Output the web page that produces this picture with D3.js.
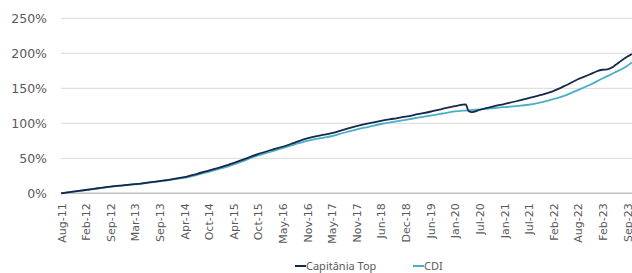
<!DOCTYPE html>
<html lang="pt">
<head>
<meta charset="utf-8">
<title>Capitânia Top vs CDI</title>
<script src="https://d3js.org/d3.v7.min.js"></script>
<style>
  body { margin: 0; background: #fff; }
  text { font-family: "DejaVu Sans", sans-serif; fill: #595959; }
</style>
</head>
<body>
<script>
// chart size
var w = 632, h = 273;

// x labels (one every ~6 months, evenly spaced on a category axis)
var labels = ["Aug-11","Feb-12","Sep-12","Mar-13","Sep-13","Apr-14","Oct-14","Apr-15",
  "Oct-15","May-16","Nov-16","May-17","Nov-17","Jun-18","Dec-18","Jun-19","Jan-20",
  "Jul-20","Jan-21","Jul-21","Feb-22","Aug-22","Feb-23","Sep-23"];

var yTicks = [0, 50, 100, 150, 200, 250];

// cumulative return (%), position measured in label steps
var capT = [0,0.5,1,1.5,2,2.5,3,3.5,4,4.5,5,5.5,6,6.5,7,7.5,8,8.5,9,9.5,10,10.5,11,11.5,
  12,12.5,13,13.5,14,14.5,15,15.5,16,16.3,16.45,16.55,16.7,17,17.5,18,18.5,19,19.5,20,
  20.5,21,21.5,21.75,22,22.2,22.4,22.5,23,23.2];
var capV = [0,2.4,4.7,7.2,9.5,11.3,13,15.2,17.5,20,23,27.5,32.5,37.5,43,49.5,56,61.5,66.5,
  72.5,78.5,82.5,86,91,96,100,103.5,106.5,109.5,113,116.5,120.5,124.5,126.5,127,118,116,
  119,123.5,127.5,131.5,136,140.5,146,154,163,170,174,176.5,177,180,182.5,195,199];

var cdiT = [0,0.5,1,1.5,2,2.5,3,3.5,4,4.5,5,5.5,6,6.5,7,7.5,8,8.5,9,9.5,10,10.5,11,11.5,
  12,12.5,13,13.5,14,14.5,15,15.5,16,16.5,17,17.5,18,18.5,19,19.5,20,20.5,21,21.5,22,
  22.5,23,23.2];
var cdiV = [0,2.3,4.5,7,9.2,11,12.7,14.8,17,19.5,22,26,30.5,35.5,41,47.5,54,59,64.5,70,75,
  78.5,81.5,86.5,91,95,99,102,105,108,111,114,117,118.5,120,121.5,123,124.5,126.5,130,
  134.5,140,147.5,155,164,172.5,182,187];

var capColor = "#16284a", cdiColor = "#4aaec8";

var xScale = d3.scaleLinear().domain([0, 23.2]).range([61, 632]);
var yScale = d3.scaleLinear().domain([0, 250]).range([193.3, 18.3]);

var svg = d3.select("body").append("svg").attr("width", w).attr("height", h);

// gridlines
svg.append("g").selectAll("line").data(yTicks).enter().append("line")
  .attr("x1", 61).attr("x2", w)
  .attr("y1", d => yScale(d)).attr("y2", d => yScale(d))
  .attr("stroke", d => d === 0 ? "#bfbfbf" : "#d9d9d9")
  .attr("stroke-width", d => d === 0 ? 1.5 : 1);

// y axis labels
var yAxis = d3.axisLeft(yScale).tickValues(yTicks).tickSize(0).tickPadding(0)
  .tickFormat(d => d + "%");
var gy = svg.append("g").attr("transform", "translate(47,0)").call(yAxis);
gy.select(".domain").remove();
gy.selectAll("text").style("font-size", "12.5px").attr("fill", "#595959");

// x axis labels, rotated
var xAxis = d3.axisBottom(xScale).tickValues(d3.range(labels.length)).tickSize(0)
  .tickFormat(i => labels[i]);
var gx = svg.append("g").attr("transform", "translate(0,193.3)").call(xAxis);
gx.select(".domain").remove();
gx.selectAll("text")
  .style("font-size", "11px").attr("fill", "#595959")
  .attr("text-anchor", "end").attr("dy", null).attr("y", 0)
  .attr("transform", "translate(4,10) rotate(-90)");

// lines
var line = d3.line().x(d => xScale(d[0])).y(d => yScale(d[1])).curve(d3.curveMonotoneX);

svg.append("path").datum(d3.zip(cdiT, cdiV)).attr("d", line)
  .attr("fill", "none").attr("stroke", cdiColor).attr("stroke-width", 1.8);
svg.append("path").datum(d3.zip(capT, capV)).attr("d", line)
  .attr("fill", "none").attr("stroke", capColor).attr("stroke-width", 1.8);

// legend
var legend = [{name: "Capitânia Top", color: capColor, x: 295},
              {name: "CDI", color: cdiColor, x: 413}];
var lg = svg.append("g").selectAll("g").data(legend).enter().append("g")
  .attr("transform", d => `translate(${d.x},266)`);
lg.append("line").attr("x1", 0).attr("x2", 11).attr("y1", 0).attr("y2", 0)
  .attr("stroke", d => d.color).attr("stroke-width", 2);
lg.append("text").attr("x", 11).attr("y", 4)
  .style("font-family", "'Noto Sans', sans-serif").style("font-size", "11px")
  .attr("fill", "#404040").text(d => d.name);
</script>
</body>
</html>
